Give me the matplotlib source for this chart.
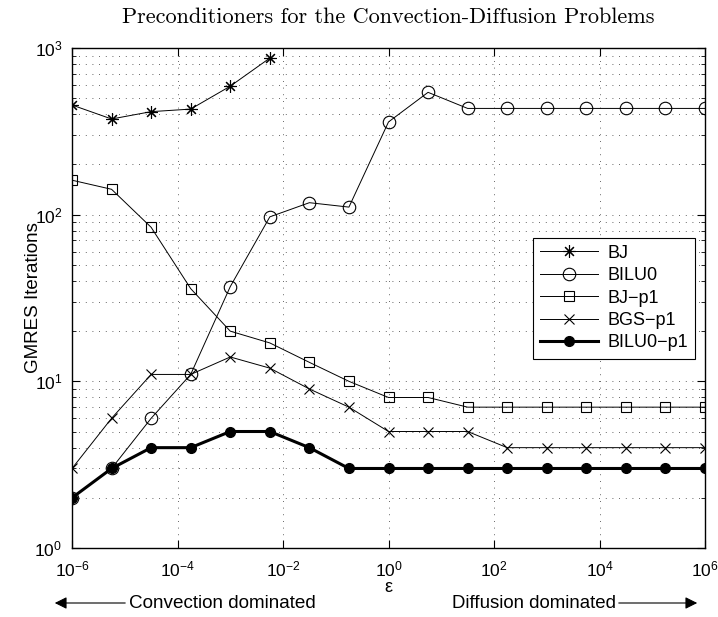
import numpy as np
import matplotlib
matplotlib.use('Agg')
import matplotlib.pyplot as plt
from matplotlib.ticker import LogLocator, NullFormatter, NullLocator

plt.rcParams['font.family'] = ['Liberation Sans', 'DejaVu Sans']
plt.rcParams['mathtext.fontset'] = 'custom'
plt.rcParams['mathtext.rm'] = 'Liberation Sans'
plt.rcParams['mathtext.it'] = 'Liberation Sans'

# epsilon values: 17 points, 0.75 decade apart
eps = 10.0 ** (-6 + 0.75 * np.arange(17))

bj = [455, 375, 415, 430, 590, 870]
bilu0 = [2, 3, 6, 11, 37, 97, 118, 111, 360, 542, 434, 434, 434, 434, 434, 434, 434]
bj_p1 = [161, 142, 84, 36, 20, 17, 13, 10, 8, 8, 7, 7, 7, 7, 7, 7, 7]
bgs_p1 = [3, 6, 11, 11, 14, 12, 9, 7, 5, 5, 5, 4, 4, 4, 4, 4, 4]
bilu0_p1 = [2, 3, 4, 4, 5, 5, 4, 3, 3, 3, 3, 3, 3, 3, 3, 3, 3]

fig = plt.figure(figsize=(7.18, 6.17), dpi=100)
ax = fig.add_axes([72 / 718, 1 - 548 / 617, 633 / 718, 500 / 617])

ax.loglog(eps[:len(bj)], bj, color='k', lw=0.7, marker=(8, 2, 0), ms=9, mew=0.8, label='BJ')
ax.loglog(eps, bilu0, color='k', lw=0.7, marker='o', ms=9, mfc='none', mew=0.8, label='BILU0')
ax.loglog(eps, bj_p1, color='k', lw=0.7, marker='s', ms=7.5, mfc='none', mew=0.8, label='BJ\u2212p1')
ax.loglog(eps, bgs_p1, color='k', lw=0.7, marker='x', ms=7, mew=0.8, label='BGS\u2212p1')
ax.loglog(eps, bilu0_p1, color='k', lw=2.2, marker='o', ms=7, mfc='k', label='BILU0\u2212p1')

ax.set_xlim(1e-6, 1e6)
ax.set_ylim(1, 1e3)
ax.set_xticks([10.0 ** k for k in range(-6, 7, 2)])
ax.xaxis.set_minor_locator(NullLocator())
ax.yaxis.set_minor_locator(LogLocator(base=10, subs=np.arange(2, 10), numticks=20))
ax.yaxis.set_minor_formatter(NullFormatter())

dots = (0, (1, 7))
ax.grid(True, which='major', linestyle=dots, color='0.2', lw=0.6)
ax.grid(True, which='minor', axis='y', linestyle=dots, color='0.2', lw=0.6)
ax.tick_params(which='both', direction='in', top=True, right=True, labelsize=12.5)
ax.tick_params(which='major', length=6)
ax.tick_params(which='minor', length=3)
ax.tick_params(axis='x', pad=8)
ax.tick_params(axis='y', pad=7)
for s in ax.spines.values():
    s.set_linewidth(1.0)

ax.set_ylabel('GMRES Iterations', fontsize=13.5)
ax.yaxis.set_label_coords(-0.047, 0.5)
ax.set_title('Preconditioners for the Convection-Diffusion Problems',
             fontfamily='cmr10', fontsize=16, pad=18)

leg = ax.legend(loc='upper right', bbox_to_anchor=(0.984, 0.621), borderaxespad=0,
                fontsize=13, handlelength=3.2, fancybox=False, framealpha=1,
                edgecolor='k', labelspacing=0.3, borderpad=0.4, handletextpad=0.5)
leg.get_frame().set_linewidth(0.8)

fig.text(388 / 718, 1 - 587 / 617, '\u03b5', fontsize=13, ha='center', va='center')
ax.annotate('', xy=(52, 617 - 603), xytext=(128, 617 - 603),
            xycoords='figure pixels', textcoords='figure pixels',
            arrowprops=dict(arrowstyle='-|>', color='k', lw=0.8, mutation_scale=18))
fig.text(129 / 718, 1 - 603 / 617, 'Convection dominated', fontsize=13.6, ha='left', va='center')
fig.text(616 / 718, 1 - 603 / 617, 'Diffusion dominated', fontsize=13.4, ha='right', va='center')
ax.annotate('', xy=(700, 617 - 603), xytext=(616, 617 - 603),
            xycoords='figure pixels', textcoords='figure pixels',
            arrowprops=dict(arrowstyle='-|>', color='k', lw=0.8, mutation_scale=18))

plt.savefig('out.png', dpi=100)
